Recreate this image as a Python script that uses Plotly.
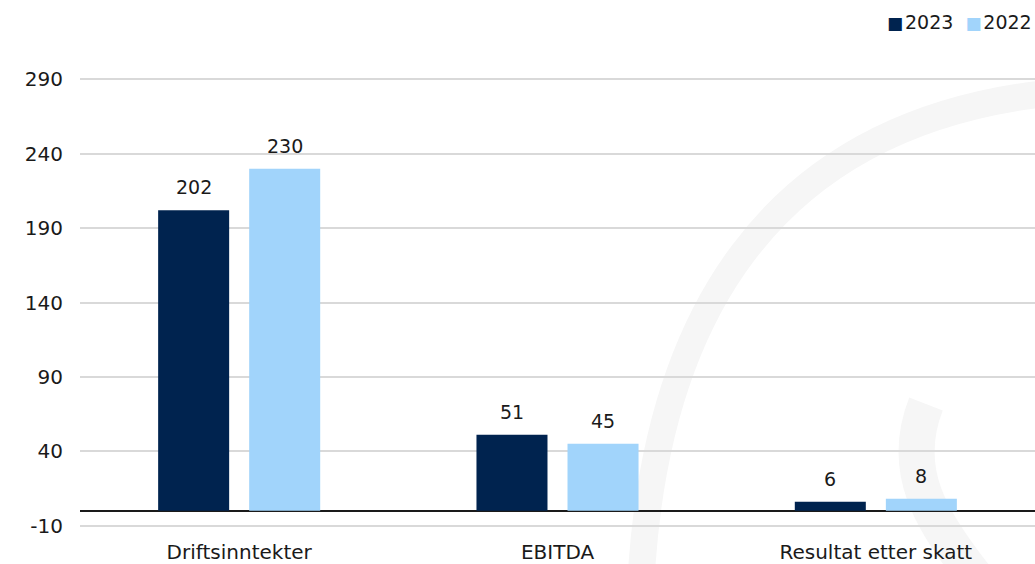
import plotly.graph_objects as go

categories = ["Driftsinntekter", "EBITDA", "Resultat etter skatt"]
series_names = ["2023", "2022"]
values_2023 = [202, 51, 6]
values_2022 = [230, 45, 8]
colors = ["#00234f", "#a1d4fb"]
y_ticks = [-10, 40, 90, 140, 190, 240, 290]
y_tick_labels = [str(v) for v in y_ticks]

W, H = 1035, 564
ML, MR, MT, MB = 80, 0, 78, 37
PW, PH = W - ML - MR, H - MT - MB
Y_RANGE = [-11, 291]

def px(x):
    return (x - ML) / PW

def py(y):
    return (H - MB - y) / PH

FONT = "DejaVu Sans"
FS = 19
FS_AX = 20
TXT = "#1a1a1a"

fig = go.Figure()
for name, vals, col in zip(series_names, [values_2023, values_2022], colors):
    fig.add_trace(go.Bar(x=categories, y=vals, name=name, marker_color=col,
                         marker_line_width=0, showlegend=False))

# value labels
for i, (name, vals) in enumerate(zip(series_names, [values_2023, values_2022])):
    shift = -45.5 if i == 0 else 45.5
    for c, v in zip(categories, vals):
        fig.add_annotation(x=c, y=v, text=str(v), showarrow=False, xshift=shift,
                           yshift=23, yanchor="middle",
                           font=dict(family=FONT, size=FS, color=TXT))

# legend as annotation
leg = "&nbsp;&nbsp;".join(
    f"<span style='color:{c};font-size:17px'>■</span>&#8202;{n}"
    for n, c in zip(series_names, colors))
fig.add_annotation(xref="paper", yref="paper", x=px(1034), y=py(22), xanchor="right",
                   yanchor="middle", text=leg, showarrow=False,
                   font=dict(family=FONT, size=FS, color=TXT))

# faint watermark arcs
def P(x, y):
    return f"{px(x):.5f},{py(y):.5f}"

arc = f"M {P(641,580)} C {P(655,330)} {P(760,120)} {P(1060,92)}"
fig.add_shape(type="path", path=arc, xref="paper", yref="paper", layer="below",
              line=dict(color="#f6f6f6", width=27))
arc2 = f"M {P(926,404)} C {P(900,470)} {P(930,520)} {P(978,580)}"
fig.add_shape(type="path", path=arc2, xref="paper", yref="paper", layer="below",
              line=dict(color="#f6f6f6", width=36))

fig.update_layout(
    width=W, height=H,
    margin=dict(l=ML, r=MR, t=MT, b=MB, autoexpand=False),
    paper_bgcolor="white", plot_bgcolor="rgba(0,0,0,0)",
    barmode="group", bargap=0.428, bargroupgap=0.22,
    font=dict(family=FONT, size=FS, color=TXT),
    showlegend=False,
)
fig.update_xaxes(automargin=False, showgrid=False, showline=False, ticks="outside",
                 ticklen=7, tickcolor="rgba(0,0,0,0)", tickfont=dict(size=FS_AX))
fig.update_yaxes(automargin=False, range=Y_RANGE, tickvals=y_ticks,
                 ticktext=y_tick_labels, showgrid=True,
                 gridcolor="#d9d9d9", gridwidth=1.5, zeroline=True,
                 zerolinecolor="#1a1a1a", zerolinewidth=2, showline=False,
                 ticks="outside", ticklen=12, tickcolor="rgba(0,0,0,0)",
                 tickfont=dict(size=FS_AX))

fig.write_html("out.html", config={"displayModeBar": False},
               post_script="document.body.style.margin='0';")
